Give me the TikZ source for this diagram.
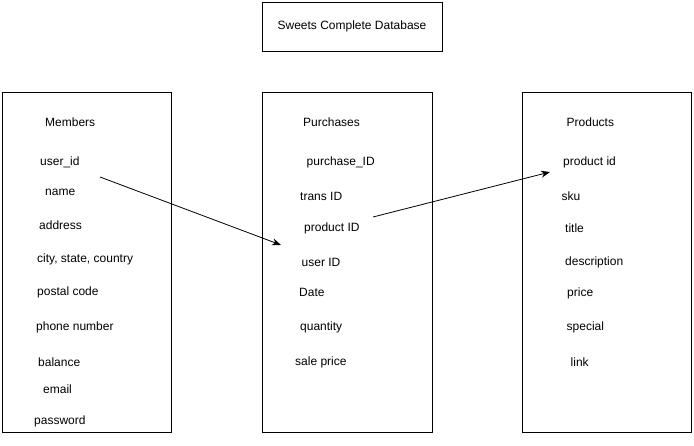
\documentclass[tikz,border=0pt]{standalone}
\usepackage{fontspec}
\setmainfont{Liberation Sans}
\usetikzlibrary{arrows.meta}
\begin{document}
\begin{tikzpicture}[x=1pt,y=-1pt,
  tbl/.style={draw=black,line width=0.9pt},
  fld/.style={anchor=west,inner sep=0pt,yshift=-1pt,font=\fontsize{12}{14}\selectfont},
  link/.style={draw=black,line width=0.8pt,-{Stealth[length=9pt,width=7pt]}}]
\useasboundingbox (0,0) rectangle (694,446);
% title
\node[tbl,minimum width=180pt,minimum height=49pt,inner sep=0pt,font=\fontsize{12}{14}\selectfont] (title) at (352,26.5) {Sweets Complete Database};
% tables
\draw[tbl] (2,92) rectangle (171,432);
\draw[tbl] (262,92) rectangle (432,432);
\draw[tbl] (522,92) rectangle (691,432);
% Members
\node[fld] (mhead) at (45,121.5) {Members};
\node[fld] (muid) at (40,161) {user\_id};
\node[fld] (mname) at (45,191) {name};
\node[fld] (maddr) at (39,224) {address};
\node[fld] (mcity) at (37,258) {city, state, country};
\node[fld] (mpost) at (37,291.5) {postal code};
\node[fld] (mphone) at (36,326.5) {phone number};
\node[fld] (mbal) at (38,361) {balance};
\node[fld] (mmail) at (43,388.5) {email};
\node[fld] (mpass) at (34,420.5) {password};
% Purchases
\node[fld] (phead) at (303,121.5) {Purchases};
\node[fld] (ppid) at (306.5,161) {purchase\_ID};
\node[fld] (ptrans) at (300,195) {trans ID};
\node[fld] (pprod) at (304,227.5) {product ID};
\node[fld] (puser) at (301.5,261) {user ID};
\node[fld] (pdate) at (299,291) {Date};
\node[fld] (pqty) at (300,326) {quantity};
\node[fld] (psale) at (295,361) {sale price};
% Products
\node[fld] (rhead) at (566.5,121.5) {Products};
\node[fld] (rpid) at (563,161) {product id};
\node[fld] (rsku) at (561.5,195) {sku};
\node[fld] (rtitle) at (565,227.5) {title};
\node[fld] (rdesc) at (565,261) {description};
\node[fld] (rprice) at (567,292) {price};
\node[fld] (rspec) at (566.5,326) {special};
\node[fld] (rlink) at (570.5,361) {link};
% connectors
\coordinate (a1s) at (100,177);
\coordinate (a1e) at (281,245);
\coordinate (a2s) at (373,217);
\coordinate (a2e) at (550,172);
\draw[link] (a1s) -- (a1e);
\draw[link] (a2s) -- (a2e);
\end{tikzpicture}
\end{document}
